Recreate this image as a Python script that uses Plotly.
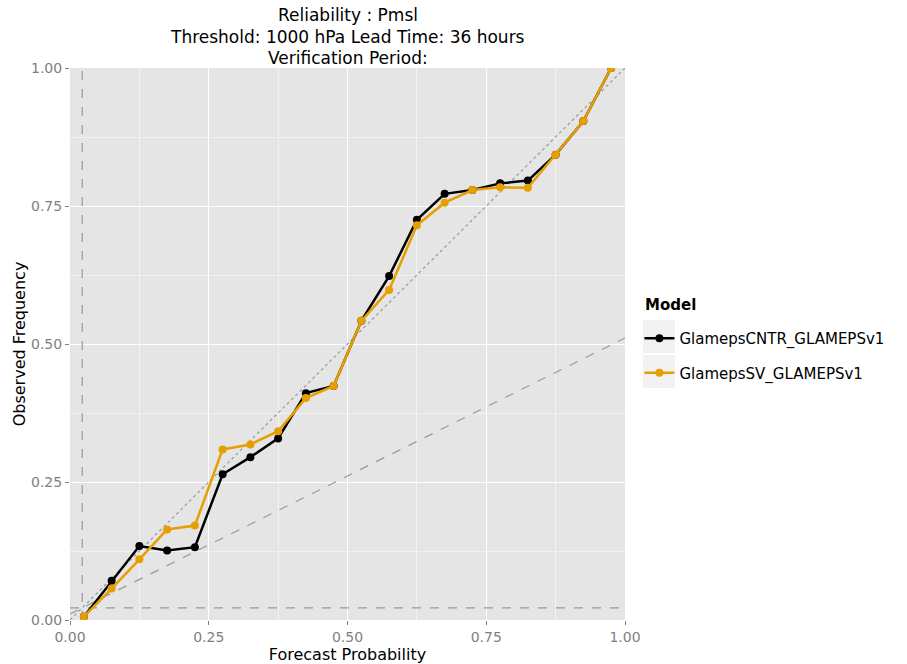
import plotly.graph_objects as go

# Forecast probability bin centres
prob_bins = [0.025, 0.075, 0.125, 0.175, 0.225, 0.275, 0.325, 0.375, 0.425, 0.475,
             0.525, 0.575, 0.625, 0.675, 0.725, 0.775, 0.825, 0.875, 0.925, 0.975]

# Observed frequency per bin for each model
obs_cntr = [0.006, 0.071, 0.134, 0.126, 0.132, 0.264, 0.295, 0.329, 0.411, 0.424,
            0.542, 0.623, 0.725, 0.772, 0.779, 0.791, 0.796, 0.843, 0.904, 1.000]
obs_sv = [0.006, 0.057, 0.110, 0.164, 0.171, 0.309, 0.318, 0.342, 0.402, 0.424,
          0.542, 0.598, 0.715, 0.756, 0.779, 0.784, 0.783, 0.843, 0.904, 1.000]

model_names = ["GlamepsCNTR_GLAMEPSv1", "GlamepsSV_GLAMEPSv1"]
model_colors = ["#000000", "#E69F00"]

# Sample climatology (observed base rate)
clim = 0.022

ticks = [0.0, 0.25, 0.5, 0.75, 1.0]
tick_text = ["0.00", "0.25", "0.50", "0.75", "1.00"]

title_lines = ["Reliability : Pmsl",
               "Threshold: 1000 hPa Lead Time: 36 hours",
               "Verification Period:"]

FONT = "DejaVu Sans, Liberation Sans, sans-serif"

fig = go.Figure()

# Reference lines: perfect reliability, no-skill, climatology
fig.add_trace(go.Scatter(x=[0, 1], y=[0, 1], mode="lines", showlegend=False,
                         line=dict(color="#999999", width=1.2, dash="dot"), hoverinfo="skip"))
fig.add_trace(go.Scatter(x=[0, 1], y=[clim / 2, clim + 0.5 * (1 - clim)], mode="lines",
                         showlegend=False, line=dict(color="#999999", width=1.2, dash="dash"),
                         hoverinfo="skip"))
fig.add_trace(go.Scatter(x=[0, 1], y=[clim, clim], mode="lines", showlegend=False,
                         line=dict(color="#999999", width=1.2, dash="dash"), hoverinfo="skip"))
fig.add_trace(go.Scatter(x=[clim, clim], y=[0, 1], mode="lines", showlegend=False,
                         line=dict(color="#999999", width=1.2, dash="dash"), hoverinfo="skip"))

for name, obs, col in zip(model_names, [obs_cntr, obs_sv], model_colors):
    fig.add_trace(go.Scatter(x=prob_bins, y=obs, mode="lines+markers", name=name,
                             legendgroup=name,
                             line=dict(color=col, width=2.5),
                             marker=dict(color=col, size=8, symbol="circle")))

axis_common = dict(
    range=[0, 1], tickvals=ticks, ticktext=tick_text, showgrid=True,
    gridcolor="#ffffff", gridwidth=1.3, zeroline=False, showline=False,
    ticks="outside", ticklen=4, tickcolor="#7f7f7f", tickwidth=1,
    tickfont=dict(family=FONT, size=14, color="#7f7f7f"),
    automargin=False,
    minor=dict(tickvals=[0.125, 0.375, 0.625, 0.875], showgrid=True,
               gridcolor="#f2f2f2", gridwidth=0.8, ticks=""),
)

# Three-line centred title above the panel
annotations = []
for i, line in enumerate(title_lines):
    annotations.append(dict(text=line, xref="paper", yref="paper", x=0.5,
                            y=1.096 - i * 0.039, xanchor="center", yanchor="middle",
                            showarrow=False, font=dict(family=FONT, size=17, color="#000000")))

# Legend heading
annotations.append(dict(text="<b>Model</b>", xref="paper", yref="paper", x=1.0324,
                        y=(620 - 305) / 552, xanchor="left", yanchor="middle",
                        showarrow=False, font=dict(family=FONT, size=15, color="#000000")))

# Grey key backgrounds behind legend symbols
shapes = []
for y0, y1 in [(0.4837, 0.5435), (0.4203, 0.4801)]:
    shapes.append(dict(type="rect", xref="paper", yref="paper", x0=1.0324, x1=1.0901,
                       y0=y0, y1=y1, fillcolor="#f2f2f2", line=dict(width=0), layer="below"))

fig.update_layout(
    width=907, height=664,
    margin=dict(l=70, r=282, t=68, b=44),
    paper_bgcolor="#ffffff", plot_bgcolor="#e5e5e5",
    font=dict(family=FONT, size=14, color="#000000"),
    annotations=annotations,
    shapes=shapes,
    xaxis=dict(axis_common, title=dict(text="Forecast Probability", standoff=8,
                                       font=dict(family=FONT, size=16))),
    yaxis=dict(axis_common, title=dict(text="Observed Frequency", standoff=1,
                                       font=dict(family=FONT, size=16))),
    legend=dict(x=1.026, xref="paper", y=(620 - 322) / 552, yanchor="top",
                bgcolor="rgba(0,0,0,0)",
                font=dict(family=FONT, size=15), itemwidth=30, tracegroupgap=12),
    showlegend=True,
)

fig.write_html("out.html")
